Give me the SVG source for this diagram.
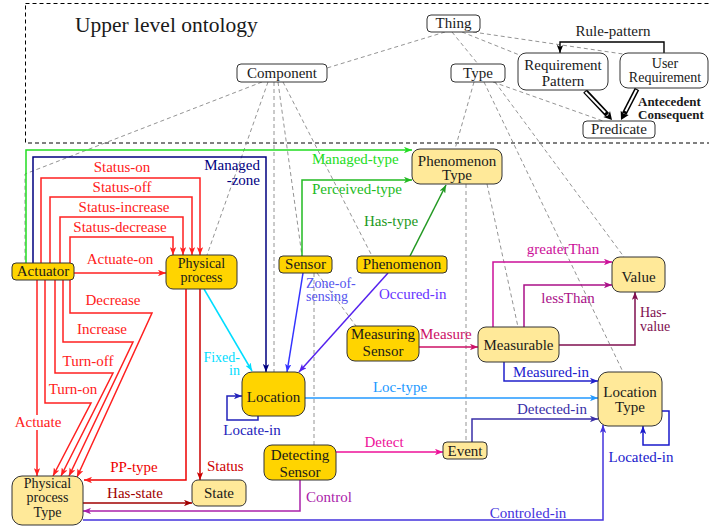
<svg xmlns="http://www.w3.org/2000/svg" width="709" height="529" viewBox="0 0 709 529">
<style>
text{font-family:"Liberation Serif",serif;font-size:15px;fill:#1a1a1a}
.c{text-anchor:middle}
.e{text-anchor:end}
.s{font-size:14px}
.n rect{stroke:#333;stroke-width:1}
.g{fill:#FFD400}
.l{fill:#FFE999}
.w{fill:#fff}
.d{stroke:#888;stroke-width:0.9;stroke-dasharray:4 3;fill:none}
.k path{fill:none;stroke-width:1.5}
</style>
<defs>
<marker id="m-red" viewBox="0 0 10 8" refX="10" refY="4" markerWidth="8" markerHeight="6.4" markerUnits="userSpaceOnUse" orient="auto"><path d="M0,0 L10,4 L0,8 L2.5,4 z" fill="#FF2020"/></marker>
<marker id="m-dred" viewBox="0 0 10 8" refX="10" refY="4" markerWidth="8" markerHeight="6.4" markerUnits="userSpaceOnUse" orient="auto"><path d="M0,0 L10,4 L0,8 L2.5,4 z" fill="#CC0000"/></marker>
<marker id="m-hs" viewBox="0 0 10 8" refX="10" refY="4" markerWidth="8" markerHeight="6.4" markerUnits="userSpaceOnUse" orient="auto"><path d="M0,0 L10,4 L0,8 L2.5,4 z" fill="#A00000"/></marker>
<marker id="m-navy" viewBox="0 0 10 8" refX="10" refY="4" markerWidth="8" markerHeight="6.4" markerUnits="userSpaceOnUse" orient="auto"><path d="M0,0 L10,4 L0,8 L2.5,4 z" fill="#000080"/></marker>
<marker id="m-lgreen" viewBox="0 0 10 8" refX="10" refY="4" markerWidth="8" markerHeight="6.4" markerUnits="userSpaceOnUse" orient="auto"><path d="M0,0 L10,4 L0,8 L2.5,4 z" fill="#22DD22"/></marker>
<marker id="m-green" viewBox="0 0 10 8" refX="10" refY="4" markerWidth="8" markerHeight="6.4" markerUnits="userSpaceOnUse" orient="auto"><path d="M0,0 L10,4 L0,8 L2.5,4 z" fill="#22BB22"/></marker>
<marker id="m-dgreen" viewBox="0 0 10 8" refX="10" refY="4" markerWidth="8" markerHeight="6.4" markerUnits="userSpaceOnUse" orient="auto"><path d="M0,0 L10,4 L0,8 L2.5,4 z" fill="#229922"/></marker>
<marker id="m-cyan" viewBox="0 0 10 8" refX="10" refY="4" markerWidth="8" markerHeight="6.4" markerUnits="userSpaceOnUse" orient="auto"><path d="M0,0 L10,4 L0,8 L2.5,4 z" fill="#00DDFF"/></marker>
<marker id="m-blue" viewBox="0 0 10 8" refX="10" refY="4" markerWidth="8" markerHeight="6.4" markerUnits="userSpaceOnUse" orient="auto"><path d="M0,0 L10,4 L0,8 L2.5,4 z" fill="#3333FF"/></marker>
<marker id="m-violet" viewBox="0 0 10 8" refX="10" refY="4" markerWidth="8" markerHeight="6.4" markerUnits="userSpaceOnUse" orient="auto"><path d="M0,0 L10,4 L0,8 L2.5,4 z" fill="#5522EE"/></marker>
<marker id="m-ltblue" viewBox="0 0 10 8" refX="10" refY="4" markerWidth="8" markerHeight="6.4" markerUnits="userSpaceOnUse" orient="auto"><path d="M0,0 L10,4 L0,8 L2.5,4 z" fill="#2299FF"/></marker>
<marker id="m-mag" viewBox="0 0 10 8" refX="10" refY="4" markerWidth="8" markerHeight="6.4" markerUnits="userSpaceOnUse" orient="auto"><path d="M0,0 L10,4 L0,8 L2.5,4 z" fill="#CC1199"/></marker>
<marker id="m-mag2" viewBox="0 0 10 8" refX="10" refY="4" markerWidth="8" markerHeight="6.4" markerUnits="userSpaceOnUse" orient="auto"><path d="M0,0 L10,4 L0,8 L2.5,4 z" fill="#AA1188"/></marker>
<marker id="m-pink" viewBox="0 0 10 8" refX="10" refY="4" markerWidth="8" markerHeight="6.4" markerUnits="userSpaceOnUse" orient="auto"><path d="M0,0 L10,4 L0,8 L2.5,4 z" fill="#EE1199"/></marker>
<marker id="m-crim" viewBox="0 0 10 8" refX="10" refY="4" markerWidth="8" markerHeight="6.4" markerUnits="userSpaceOnUse" orient="auto"><path d="M0,0 L10,4 L0,8 L2.5,4 z" fill="#CC1166"/></marker>
<marker id="m-hv" viewBox="0 0 10 8" refX="10" refY="4" markerWidth="8" markerHeight="6.4" markerUnits="userSpaceOnUse" orient="auto"><path d="M0,0 L10,4 L0,8 L2.5,4 z" fill="#801050"/></marker>
<marker id="m-purp" viewBox="0 0 10 8" refX="10" refY="4" markerWidth="8" markerHeight="6.4" markerUnits="userSpaceOnUse" orient="auto"><path d="M0,0 L10,4 L0,8 L2.5,4 z" fill="#AA22AA"/></marker>
<marker id="m-ctl" viewBox="0 0 10 8" refX="10" refY="4" markerWidth="8" markerHeight="6.4" markerUnits="userSpaceOnUse" orient="auto"><path d="M0,0 L10,4 L0,8 L2.5,4 z" fill="#4433DD"/></marker>
<marker id="m-det" viewBox="0 0 10 8" refX="10" refY="4" markerWidth="8" markerHeight="6.4" markerUnits="userSpaceOnUse" orient="auto"><path d="M0,0 L10,4 L0,8 L2.5,4 z" fill="#3A2FA8"/></marker>
<marker id="m-meas" viewBox="0 0 10 8" refX="10" refY="4" markerWidth="8" markerHeight="6.4" markerUnits="userSpaceOnUse" orient="auto"><path d="M0,0 L10,4 L0,8 L2.5,4 z" fill="#2020CC"/></marker>
<marker id="m-loc" viewBox="0 0 10 8" refX="10" refY="4" markerWidth="8" markerHeight="6.4" markerUnits="userSpaceOnUse" orient="auto"><path d="M0,0 L10,4 L0,8 L2.5,4 z" fill="#1A1ACC"/></marker>
<marker id="m-locin" viewBox="0 0 10 8" refX="10" refY="4" markerWidth="8" markerHeight="6.4" markerUnits="userSpaceOnUse" orient="auto"><path d="M0,0 L10,4 L0,8 L2.5,4 z" fill="#2222BB"/></marker>
<marker id="m-black" viewBox="0 0 10 8" refX="10" refY="4" markerWidth="8" markerHeight="6.4" markerUnits="userSpaceOnUse" orient="auto"><path d="M0,0 L10,4 L0,8 L2.5,4 z" fill="#000"/></marker>
</defs>
<rect width="709" height="529" fill="#fff"/>

<rect x="25.5" y="3.5" width="700" height="139.5" fill="none" stroke="#000" stroke-width="1" stroke-dasharray="4 3"/>
<text x="75" y="32" style="font-size:21.5px">Upper level ontology</text>

<g id="connectors">
<g class="d">
<path d="M445,32 L327,68"/>
<path d="M452,32 L478,64"/>
<path d="M462,32 L522,56"/>
<path d="M473,32 L623,54"/>
<path d="M493,82 L603,121"/>
<path d="M262,82 L25,174 L25,263"/>
<path d="M268,82 L207,255"/>
<path d="M274,82 L274,372"/>
<path d="M278,82 L302,256"/>
<path d="M283,82 L372,256"/>
<path d="M474,82 L455,149"/>
<path d="M484,82 L623,372"/>
<path d="M495,82 L624,257"/>
<path d="M466,184 L466,442"/>
<path d="M487,184 L518,327"/>
<path d="M314,273 L314,445"/>
<path d="M317,273 L356,326"/>
</g>

<path d="M664,53 V42 H560 V53" fill="none" stroke="#000" stroke-width="1.4" marker-end="url(#m-black)"/>
<g id="antecedent-arrows">
<path d="M585,91 L607.3,114.8" stroke="#000" stroke-width="5" fill="none"/>
<path d="M585.5,92 L605.3,112.6" stroke="#fff" stroke-width="2" fill="none"/>
<polygon points="612,120 610,111 608,115.5 603.3,117.1" fill="#000"/>
<path d="M637,89 L624.3,113.6" stroke="#000" stroke-width="5" fill="none"/>
<path d="M636.5,90 L625.6,111.2" stroke="#fff" stroke-width="2" fill="none"/>
<polygon points="621,120 620.7,110.8 623.8,113.8 628.7,115" fill="#000"/>
</g>

<g class="k">
<path d="M41,263 V178 H200 V255" stroke="#FF2020" marker-end="url(#m-red)"/>
<path d="M50,263 V197 H192 V255" stroke="#FF2020" marker-end="url(#m-red)"/>
<path d="M60,263 V217 H183 V255" stroke="#FF2020" marker-end="url(#m-red)"/>
<path d="M70,263 V237 H173 V255" stroke="#FF2020" marker-end="url(#m-red)"/>
<path d="M74,273 H166" stroke="#FF2020" marker-end="url(#m-red)"/>
<path d="M37,280 V476" stroke="#FF2020" marker-end="url(#m-red)"/>
<path d="M45,280 V403 H91 L53,476" stroke="#FF2020" marker-end="url(#m-red)"/>
<path d="M55,280 V373 H113 L61,476" stroke="#FF2020" marker-end="url(#m-red)"/>
<path d="M63,280 V342 H133 L69,476" stroke="#FF2020" marker-end="url(#m-red)"/>
<path d="M70,280 V313 H152 L77,477" stroke="#FF2020" marker-end="url(#m-red)"/>
<path d="M186,289 V480 H84" stroke="#EE0000" marker-end="url(#m-red)"/>
<path d="M200,289 V480" stroke="#CC0000" marker-end="url(#m-dred)"/>
<path d="M83,503 H192" stroke="#A00000" marker-end="url(#m-hs)"/>
<path d="M300,480 V511 H83" stroke="#AA22AA" marker-end="url(#m-purp)"/>
<path d="M83,520 H603 V425" stroke="#4433DD" marker-end="url(#m-ctl)"/>
<path d="M26,263 V150 H412" stroke="#22DD22" marker-end="url(#m-lgreen)"/>
<path d="M33,263 V157 H266 V372" stroke="#000080" marker-end="url(#m-navy)"/>
<path d="M302,256 V180 H412" stroke="#22BB22" marker-end="url(#m-green)"/>
<path d="M410,256 L446,185" stroke="#229922" marker-end="url(#m-dgreen)"/>
<path d="M204,289 L252,371" stroke="#00DDFF" marker-end="url(#m-cyan)"/>
<path d="M303,273 L287,372" stroke="#3333FF" marker-end="url(#m-blue)"/>
<path d="M388,273 L299,372" stroke="#5522EE" marker-end="url(#m-violet)"/>
<path d="M258,416 V420 H227 V396 H242" stroke="#2222BB" marker-end="url(#m-locin)"/>
<path d="M305,398 H598" stroke="#2299FF" marker-end="url(#m-ltblue)"/>
<path d="M419,347 H478" stroke="#CC1166" marker-end="url(#m-crim)"/>
<path d="M336,452 H443" stroke="#EE1199" marker-end="url(#m-pink)"/>
<path d="M493,327 V262 H612" stroke="#CC1199" marker-end="url(#m-mag)"/>
<path d="M524,327 V285 H612" stroke="#AA1188" marker-end="url(#m-mag2)"/>
<path d="M559,345 H635 V292" stroke="#801050" marker-end="url(#m-hv)"/>
<path d="M504,362 V381 H598" stroke="#2020CC" marker-end="url(#m-meas)"/>
<path d="M472,442 V419 H598" stroke="#3A2FA8" marker-end="url(#m-det)"/>
<path d="M662,411 H669 V445 H643 V426" stroke="#1A1ACC" marker-end="url(#m-loc)"/>
</g>

<g>
<text x="122" y="172" class="c" style="fill:#FF2020">Status-on</text>
<text x="122" y="192" class="c" style="fill:#FF2020">Status-off</text>
<text x="124" y="212" class="c" style="fill:#FF2020">Status-increase</text>
<text x="120" y="232" class="c" style="fill:#FF2020">Status-decrease</text>
<text x="120" y="264" class="c" style="fill:#FF2020">Actuate-on</text>
<text x="113" y="305" class="c" style="fill:#FF2020">Decrease</text>
<text x="102" y="334" class="c" style="fill:#FF2020">Increase</text>
<text x="88" y="366" class="c" style="fill:#FF2020">Turn-off</text>
<text x="73" y="394" class="c" style="fill:#FF2020">Turn-on</text>
<rect x="14" y="415" width="48" height="15" fill="#fff"/>
<text x="38" y="427" class="c" style="fill:#FF2020">Actuate</text>
<text x="134" y="472" class="c" style="fill:#EE0000">PP-type</text>
<text x="135" y="498" class="c" style="fill:#A00000">Has-state</text>
<text x="207" y="471" style="fill:#CC0000">Status</text>
<text x="306" y="502" style="fill:#AA22AA">Control</text>
<text x="528" y="518" class="c" style="fill:#4433DD">Controled-in</text>
<text x="552" y="414" class="c" style="fill:#3A2FA8">Detected-in</text>
<text x="551" y="377" class="c" style="fill:#2020CC">Measured-in</text>
<text x="400" y="392" class="c" style="fill:#2299FF">Loc-type</text>
<text x="641" y="462" class="c" style="fill:#1A1ACC">Located-in</text>
<text x="252" y="435" class="c" style="fill:#2222BB">Locate-in</text>
<text x="240" y="362" class="e s" style="fill:#00DDFF">Fixed-</text>
<text x="240" y="375" class="e s" style="fill:#00DDFF">in</text>
<text x="306" y="288" class="s" style="fill:#5555EE">Zone-of-</text>
<text x="306" y="301" class="s" style="fill:#5555EE">sensing</text>
<text x="379" y="299" style="fill:#6633FF">Occured-in</text>
<text x="364" y="226" style="fill:#229922">Has-type</text>
<text x="312" y="194" style="fill:#22BB22">Perceived-type</text>
<text x="312" y="164" style="fill:#22DD22">Managed-type</text>
<text x="260" y="170" class="e" style="fill:#000080">Managed</text>
<text x="260" y="185" class="e" style="fill:#000080">-zone</text>
<text x="420" y="339" style="fill:#CC1166">Measure</text>
<text x="384" y="447" class="c" style="fill:#EE1199">Detect</text>
<text x="563" y="254" class="c" style="fill:#CC1199">greaterThan</text>
<text x="568" y="303" class="c" style="fill:#AA1188">lessThan</text>
<text x="640" y="317" class="s" style="fill:#801050">Has-</text>
<text x="640" y="331" class="s" style="fill:#801050">value</text>
<text x="613" y="36" class="c">Rule-pattern</text>
<text x="638" y="106" style="font-weight:bold;font-size:13px">Antecedent</text>
<text x="638" y="119" style="font-weight:bold;font-size:13px">Consequent</text>
</g>
</g>

<g id="thing" class="n"><rect class="w" x="427" y="15" width="53" height="17" rx="4"/><text x="453.5" y="28" class="c">Thing</text></g>
<g id="component" class="n"><rect class="w" x="237" y="64" width="90" height="18" rx="4"/><text x="282" y="78" class="c">Component</text></g>
<g id="type" class="n"><rect class="w" x="451" y="64" width="54" height="18" rx="4"/><text x="478" y="78" class="c">Type</text></g>
<g id="requirement-pattern" class="n"><rect class="w" x="518" y="53" width="90" height="37" rx="8"/><text x="563" y="70" class="c">Requirement</text><text x="563" y="86" class="c">Pattern</text></g>
<g id="user-requirement" class="n"><rect class="w" x="620" y="53" width="88" height="35" rx="8"/><text x="665" y="68" class="c s">User</text><text x="665" y="82" class="c s">Requirement</text></g>
<g id="predicate" class="n"><rect class="w" x="583" y="121" width="72" height="17" rx="4"/><text x="619" y="134" class="c">Predicate</text></g>

<g id="actuator" class="n"><rect class="g" x="12" y="263" width="62" height="17" rx="4"/><text x="43" y="276" class="c">Actuator</text></g>
<g id="physical-process" class="n"><rect class="g" x="166" y="255" width="71" height="34" rx="7"/><text x="201.5" y="268" class="c s">Physical</text><text x="201.5" y="282" class="c s">process</text></g>
<g id="sensor" class="n"><rect class="g" x="279" y="256" width="53" height="17" rx="4"/><text x="305.5" y="269" class="c">Sensor</text></g>
<g id="phenomenon" class="n"><rect class="g" x="357" y="256" width="90" height="17" rx="4"/><text x="402" y="269" class="c">Phenomenon</text></g>
<g id="phenomenon-type" class="n"><rect class="l" x="412" y="149" width="90" height="35" rx="8"/><text x="457" y="166" class="c">Phenomenon</text><text x="457" y="180" class="c">Type</text></g>
<g id="value" class="n"><rect class="l" x="612" y="257" width="53" height="35" rx="8"/><text x="638.5" y="282" class="c">Value</text></g>
<g id="measuring-sensor" class="n"><rect class="g" x="347" y="326" width="72" height="35" rx="8"/><text x="383" y="339" class="c">Measuring</text><text x="383" y="356" class="c">Sensor</text></g>
<g id="measurable" class="n"><rect class="l" x="478" y="327" width="81" height="35" rx="8"/><text x="518.5" y="350" class="c">Measurable</text></g>
<g id="location" class="n"><rect class="g" x="242" y="372" width="63" height="44" rx="10"/><text x="273.5" y="402" class="c">Location</text></g>
<g id="location-type" class="n"><rect class="l" x="598" y="372" width="64" height="54" rx="10"/><text x="630" y="397" class="c">Location</text><text x="630" y="412" class="c">Type</text></g>
<g id="detecting-sensor" class="n"><rect class="g" x="264" y="445" width="72" height="35" rx="8"/><text x="300" y="460" class="c">Detecting</text><text x="300" y="477" class="c">Sensor</text></g>
<g id="event" class="n"><rect class="l" x="443" y="442" width="44" height="17" rx="4"/><text x="465" y="456" class="c">Event</text></g>
<g id="state" class="n"><rect class="l" x="192" y="480" width="54" height="26" rx="6"/><text x="219" y="498" class="c">State</text></g>
<g id="physical-process-type" class="n"><rect class="l" x="12" y="476" width="71" height="49" rx="10"/><text x="47.5" y="488" class="c s">Physical</text><text x="47.5" y="502" class="c s">process</text><text x="47.5" y="517" class="c s">Type</text></g>
</svg>
